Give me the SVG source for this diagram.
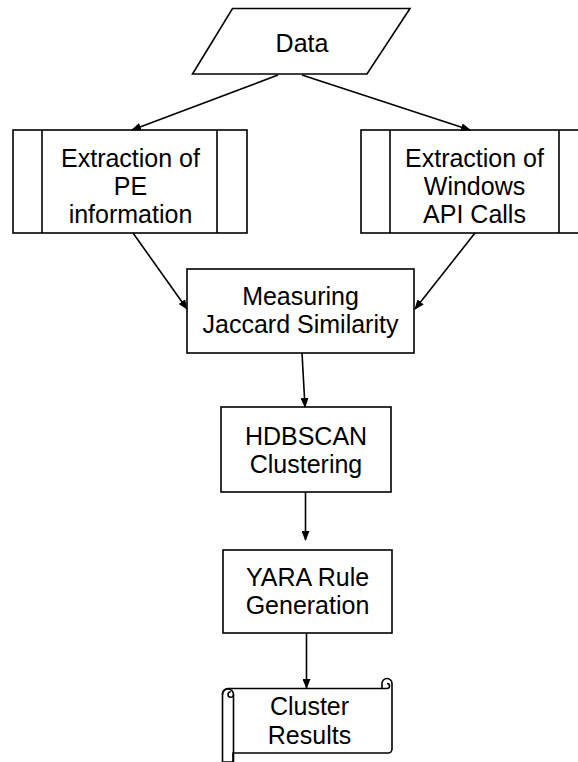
<svg xmlns="http://www.w3.org/2000/svg" width="578" height="762" viewBox="0 0 578 762">
  <style>
    .shape { fill: #ffffff; stroke: #000000; stroke-width: 1.6; }
    .line { fill: none; stroke: #000000; stroke-width: 1.6; }
    .label { font-family: "Liberation Sans", Arial, sans-serif; font-size: 25px; fill: #000000; text-anchor: middle; }
    .edge { fill: none; stroke: #000000; stroke-width: 1.6; marker-end: url(#arrow); }
  </style>
  <defs>
    <marker id="arrow" markerUnits="userSpaceOnUse" markerWidth="10" markerHeight="8" refX="9" refY="4" orient="auto">
      <path d="M0,0 L10,4 L0,8 z" fill="#000000"/>
    </marker>
  </defs>
  <rect width="578" height="762" fill="#ffffff"/>

  <!-- input data (parallelogram) -->
  <g id="data">
    <polygon class="shape" points="232.5,8.5 410,8.5 367,74 192.5,74"/>
    <text class="label" x="302" y="52">Data</text>
  </g>

  <!-- predefined process: PE information -->
  <g id="extract-pe">
    <rect class="shape" x="13" y="130" width="234" height="103"/>
    <line class="line" x1="42" y1="130" x2="42" y2="233"/>
    <line class="line" x1="217" y1="130" x2="217" y2="233"/>
    <text class="label" x="130.5" y="167">Extraction of</text>
    <text class="label" x="130.5" y="195">PE</text>
    <text class="label" x="130.5" y="222.5">information</text>
  </g>

  <!-- predefined process: Windows API calls -->
  <g id="extract-api">
    <rect class="shape" x="361" y="130" width="228" height="103"/>
    <line class="line" x1="390" y1="130" x2="390" y2="233"/>
    <line class="line" x1="559" y1="130" x2="559" y2="233"/>
    <text class="label" x="474.5" y="167">Extraction of</text>
    <text class="label" x="474.5" y="195">Windows</text>
    <text class="label" x="474.5" y="222.5">API Calls</text>
  </g>

  <!-- similarity measurement -->
  <g id="jaccard">
    <rect class="shape" x="187" y="269" width="227" height="84"/>
    <text class="label" x="300.5" y="305">Measuring</text>
    <text class="label" x="300.5" y="333">Jaccard Similarity</text>
  </g>

  <!-- clustering -->
  <g id="hdbscan">
    <rect class="shape" x="221" y="407" width="170" height="85"/>
    <text class="label" x="306" y="445">HDBSCAN</text>
    <text class="label" x="306" y="473">Clustering</text>
  </g>

  <!-- rule generation -->
  <g id="yara">
    <rect class="shape" x="223" y="550" width="169" height="83"/>
    <text class="label" x="307.5" y="586">YARA Rule</text>
    <text class="label" x="307.5" y="614">Generation</text>
  </g>

  <!-- output (horizontal scroll) -->
  <g id="results">
    <path class="shape" d="M228,688.5 H382 V683.5 A5,5 0 0 1 392,683.5 V749 A4,4 0 0 1 388,753 H233 V762 H222.5 V694.5 A5.5,5.5 0 0 1 228,688.5 Z"/>
    <path class="line" d="M382,688.5 H387 A2.5,2.5 0 0 0 387,683.5"/>
    <path class="line" d="M222.5,694.5 A5.5,5.5 0 0 1 233.5,694.5 V762"/>
    <path class="line" d="M233.5,694.5 A2.75,2.75 0 0 1 228,694.5 A2.75,2.75 0 0 1 230.75,691.75"/>
    <text class="label" x="309.5" y="715">Cluster</text>
    <text class="label" x="309.5" y="744">Results</text>
  </g>

  <!-- connectors -->
  <g id="connectors">
    <line class="edge" x1="278" y1="75" x2="132" y2="130"/>
    <line class="edge" x1="302" y1="75" x2="470" y2="130"/>
    <line class="edge" x1="133" y1="233" x2="187" y2="309"/>
    <line class="edge" x1="475" y1="233" x2="415" y2="309"/>
    <line class="edge" x1="302" y1="353" x2="305" y2="407"/>
    <line class="edge" x1="305.5" y1="492" x2="305.5" y2="540"/>
    <line class="edge" x1="306.5" y1="633" x2="306.5" y2="688"/>
  </g>
</svg>
